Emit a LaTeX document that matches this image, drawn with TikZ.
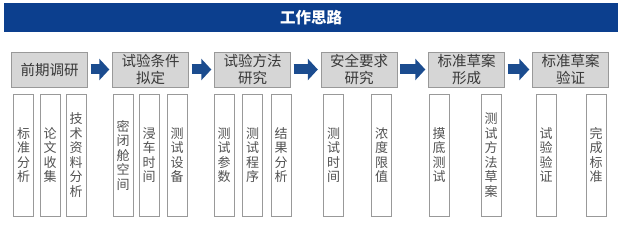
\documentclass[tikz,border=0pt]{standalone}
\usepackage{fontspec}
\setmainfont{Noto Sans CJK SC}
\usetikzlibrary{arrows.meta,positioning}
\definecolor{titleblue}{HTML}{0C3F8E}
\definecolor{arrowblue}{HTML}{1B4C8F}

\begin{document}
\begin{tikzpicture}[x=1pt,y=-1pt,
  stage/.style={draw=black!40,fill=black!16,minimum width=76pt,minimum height=35pt,inner sep=0pt,align=center,text=black!78,font=\fontsize{14.5}{17}\selectfont},
  task/.style={draw=black!40,fill=white,minimum width=20pt,minimum height=122pt,inner sep=0pt,align=center,text=black!68,font=\fontsize{13}{14.5}\selectfont},
  flow/.style={arrowblue,line width=10pt,-{Triangle[length=10pt,width=21pt]},shorten <=3pt,shorten >=3pt}]
\useasboundingbox (0,0) rectangle (629,227);
% title bar
\node[fill=titleblue,minimum width=614pt,minimum height=29pt,inner sep=0pt,text=white,font=\fontsize{15.5}{18}\selectfont\bfseries] (title) at (311,17.5) {工作思路};
% stages
\node[stage] (s1) at (49.5,69.5) {前期调研};
\node[stage] (s2) at (150.5,69.5) {试验条件\\拟定};
\node[stage] (s3) at (252.5,69.5) {试验方法\\研究};
\node[stage] (s4) at (359,69.5) {安全要求\\研究};
\node[stage] (s5) at (466.5,69.5) {标准草案\\形成};
\node[stage] (s6) at (570.5,69.5) {标准草案\\验证};
\foreach \a/\b in {s1/s2,s2/s3,s3/s4,s4/s5,s5/s6}
  \draw[flow] (\a) -- (\b);
% tasks under each stage
\foreach \i/\x/\t in {1/23.5/{标\\准\\分\\析},2/50/{论\\文\\收\\集},3/76/{技\\术\\资\\料\\分\\析},
  4/123/{密\\闭\\舱\\空\\间},5/149/{浸\\车\\时\\间},6/177/{测\\试\\设\\备},
  7/224/{测\\试\\参\\数},8/252.5/{测\\试\\程\\序},9/281/{结\\果\\分\\析},
  10/333.5/{测\\试\\时\\间},11/381.5/{浓\\度\\限\\值},
  12/439/{摸\\底\\测\\试},13/491/{测\\试\\方\\法\\草\\案},
  14/546/{试\\验\\验\\证},15/596/{完\\成\\标\\准}}
  \node[task] (t\i) at (\x,155) {\t};
\end{tikzpicture}
\end{document}
